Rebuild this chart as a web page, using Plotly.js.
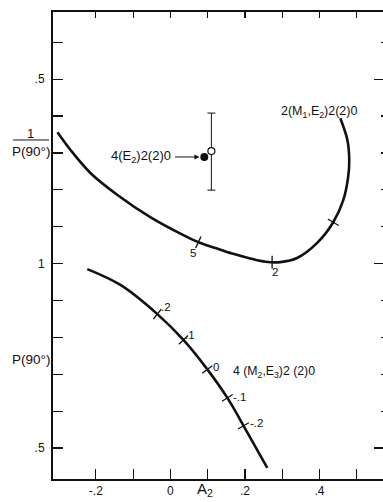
<!DOCTYPE html>
<html>
<head>
<meta charset="utf-8">
<script src="https://cdn.plot.ly/plotly-3.0.1.min.js"></script>
<style>
  html, body { margin: 0; padding: 0; background: #fff; overflow: hidden; }
  #chart { width: 400px; height: 502px; }
</style>
</head>
<body>
<div id="chart"></div>
<script>
  // 2(M1,E2)2(2)0 branch, plotted as 1/P(90°)
  const m1e2A2 = [-0.303, -0.268, -0.214, -0.142, -0.054, 0.035, 0.075, 0.121, 0.166, 0.214, 0.255, 0.295, 0.340, 0.394, 0.437, 0.464, 0.477, 0.480, 0.475, 0.456];
  const m1e2InvP = [0.644, 0.692, 0.755, 0.814, 0.874, 0.923, 0.942, 0.958, 0.973, 0.986, 0.995, 0.996, 0.985, 0.944, 0.888, 0.828, 0.766, 0.720, 0.665, 0.606];
  // 4(M2,E3)2(2)0 branch, plotted as P(90°)
  const m2e3A2 = [-0.223, -0.134, -0.035, 0.035, 0.094, 0.153, 0.206, 0.260];
  const m2e3P = [0.985, 0.942, 0.863, 0.793, 0.720, 0.636, 0.543, 0.446];

  // mixing-ratio marks along the curves
  const m1e2MarkA2 = [0.075, 0.273, 0.437];
  const m1e2MarkInvP = [0.942, 0.996, 0.888];
  const m1e2MarkText = ["5", "2", ""];
  const m2e3MarkA2 = [-0.035, 0.035, 0.099, 0.153, 0.196];
  const m2e3MarkP = [0.863, 0.793, 0.713, 0.636, 0.560];
  const m2e3MarkText = [".2", ".1", "0", "-.1", "-.2"];

  // measurement with error bar, and the 4(E2)2(2)0 point
  const measA2 = [0.110];
  const measInvP = [0.695];
  const measErrUp = [0.106];
  const measErrDown = [0.103];
  const e2A2 = [0.091];
  const e2InvP = [0.711];

  const xTickVals = [-0.2, -0.1, 0, 0.1, 0.2, 0.3, 0.4, 0.5];
  const xTickText = ["-.2", "", "0", "", ".2", "", ".4", ""];
  // folded scale: 1/P above the value 1, P below it
  const yTickVals = [0.4, 0.5, 0.6, 0.7, 0.8, 0.9, 1.0, 1.1, 1.2, 1.3, 1.4, 1.5];
  const yTickText = ["", ".5", "", "", "", "", "1", "", "", "", "", ".5"];

  function fold(p) { return 2 - p; }

  const black = "#111";
  const font = { family: "Liberation Sans, Arial, sans-serif", color: black };
  function sized(s) { return Object.assign({ size: s }, font); }

  const traces = [
    {
      type: "scatter", mode: "lines", x: m1e2A2, y: m1e2InvP,
      line: { color: black, width: 2.6, shape: "spline", smoothing: 1 },
      hoverinfo: "skip"
    },
    {
      type: "scatter", mode: "lines", x: m2e3A2, y: m2e3P.map(fold),
      line: { color: black, width: 2.6, shape: "spline", smoothing: 1 },
      hoverinfo: "skip"
    },
    {
      type: "scatter", mode: "markers", x: m1e2MarkA2, y: m1e2MarkInvP,
      marker: { symbol: "line-ns", size: 9, angle: [25, 0, -59], line: { color: black, width: 1.3 } },
      hoverinfo: "skip"
    },
    {
      type: "scatter", mode: "markers", x: m2e3MarkA2, y: m2e3MarkP.map(fold),
      marker: { symbol: "line-ns", size: 9, angle: [39, 46, 53, 58, 60], line: { color: black, width: 1.3 } },
      hoverinfo: "skip"
    },
    {
      type: "scatter", mode: "markers", x: measA2, y: measInvP,
      error_y: { type: "data", symmetric: false, array: measErrUp, arrayminus: measErrDown, color: black, thickness: 1, width: 4 },
      marker: { symbol: "circle", size: 7, color: "#fff", line: { color: black, width: 1.2 } },
      hoverinfo: "skip"
    },
    {
      type: "scatter", mode: "markers", x: e2A2, y: e2InvP,
      marker: { symbol: "circle", size: 8, color: black },
      hoverinfo: "skip"
    },
    {
      type: "scatter", mode: "markers", x: [0], y: [1], xaxis: "x2", yaxis: "y2",
      marker: { opacity: 0 }, hoverinfo: "skip"
    }
  ];

  const annotations = [];
  const m1e2Shift = [[-5, -11], [3, -10]];
  m1e2MarkText.forEach(function (t, i) {
    if (!t) { return; }
    annotations.push({
      x: m1e2MarkA2[i], y: m1e2MarkInvP[i], text: t, showarrow: false,
      xshift: m1e2Shift[i][0], yshift: m1e2Shift[i][1], font: sized(11.5)
    });
  });
  const m2e3Shift = [[9, 7], [7, 5], [9, 2], [12, 1], [13, 3]];
  m2e3MarkText.forEach(function (t, i) {
    annotations.push({
      x: m2e3MarkA2[i], y: fold(m2e3MarkP[i]), text: t, showarrow: false,
      xshift: m2e3Shift[i][0], yshift: m2e3Shift[i][1], font: sized(11.5)
    });
  });

  annotations.push(
    { x: 0.399, y: 0.589, text: "2(M<sub>1</sub>,E<sub>2</sub>)2(2)0", showarrow: false, font: sized(12.5) },
    { x: 0.279, y: 1.294, text: "4 (M<sub>2</sub>,E<sub>3</sub>)2 (2)0", showarrow: false, font: sized(12.3) },
    { x: 0.006, y: 0.711, text: "4(E<sub>2</sub>)2(2)0", showarrow: false, xanchor: "right", font: sized(13) },
    { x: 0.078, y: 0.711, text: "", showarrow: true, ax: -26, ay: 0, arrowhead: 2, arrowsize: 1, arrowwidth: 1, arrowcolor: black },
    { xref: "paper", yref: "paper", x: -0.066, y: 0.739, xanchor: "center", yanchor: "middle", text: "1", showarrow: false, font: sized(13) },
    { xref: "paper", yref: "paper", x: -0.066, y: 0.701, xanchor: "center", yanchor: "middle", text: "P(90°)", showarrow: false, font: sized(13.5) },
    { xref: "paper", yref: "paper", x: -0.066, y: 0.255, xanchor: "center", yanchor: "middle", text: "P(90°)", showarrow: false, font: sized(13.5) },
    { xref: "paper", yref: "paper", x: 0.455, y: -0.047, xanchor: "center", yanchor: "bottom", text: "A<sub>2</sub>", showarrow: false, font: sized(15) }
  );

  const xRange = [-0.315, 0.584];
  const yRange = [1.584, 0.318];

  const layout = {
    width: 400,
    height: 502,
    margin: { l: 53, r: 12, t: 12, b: 23 },
    paper_bgcolor: "#fff",
    plot_bgcolor: "#fff",
    font: font,
    showlegend: false,
    xaxis: {
      range: xRange, showgrid: false, zeroline: false,
      showline: true, linecolor: black, linewidth: 2,
      tickmode: "array", tickvals: xTickVals, ticktext: xTickText,
      ticks: "inside", ticklen: 10, tickwidth: 1.2, tickcolor: black,
      tickfont: sized(12)
    },
    yaxis: {
      range: yRange, showgrid: false, zeroline: false,
      showline: true, linecolor: black, linewidth: 2,
      tickmode: "array", tickvals: yTickVals, ticktext: yTickText,
      ticks: "inside", ticklen: 10, tickwidth: 1.2, tickcolor: black,
      ticklabelstandoff: 4,
      tickfont: sized(12)
    },
    xaxis2: {
      overlaying: "x", side: "top", range: xRange, showgrid: false, zeroline: false,
      showline: true, linecolor: black, linewidth: 2,
      tickmode: "array", tickvals: xTickVals, showticklabels: false,
      ticks: "inside", ticklen: 6, tickwidth: 1.2, tickcolor: black
    },
    yaxis2: {
      overlaying: "y", side: "right", range: yRange, showgrid: false, zeroline: false,
      showline: true, linecolor: black, linewidth: 2,
      tickmode: "array", tickvals: [0.5, 1.0, 1.5], showticklabels: false,
      ticks: "inside", ticklen: 14, tickwidth: 1.2, tickcolor: black,
      minor: { tickvals: yTickVals, ticks: "inside", ticklen: 7, tickwidth: 1.2, tickcolor: black }
    },
    shapes: [
      { type: "line", xref: "paper", yref: "paper", x0: -0.119, x1: -0.012, y0: 0.726, y1: 0.726, line: { color: black, width: 1 } }
    ],
    annotations: annotations
  };

  Plotly.newPlot("chart", traces, layout, { displayModeBar: false, staticPlot: true });
</script>
</body>
</html>
